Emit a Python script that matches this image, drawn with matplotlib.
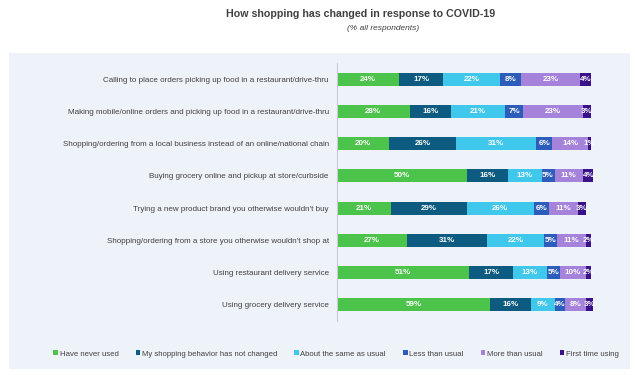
import matplotlib
matplotlib.use("Agg")
import matplotlib.pyplot as plt
from matplotlib.patches import Rectangle

categories = [
    "Calling to place orders picking up food in a restaurant/drive-thru",
    "Making mobile/online orders and picking up food in a restaurant/drive-thru",
    "Shopping/ordering from a local business instead of an online/national chain",
    "Buying grocery online and pickup at store/curbside",
    "Trying a new product brand you otherwise wouldn't buy",
    "Shopping/ordering from a store you otherwise wouldn't shop at",
    "Using restaurant delivery service",
    "Using grocery delivery service",
]
series = [
    "Have never used",
    "My shopping behavior has not changed",
    "About the same as usual",
    "Less than usual",
    "More than usual",
    "First time using",
]
values = [
    [24, 28, 20, 50, 21, 27, 51, 59],
    [17, 16, 26, 16, 29, 31, 17, 16],
    [22, 21, 31, 13, 26, 22, 13, 9],
    [8, 7, 6, 5, 6, 5, 5, 4],
    [23, 23, 14, 11, 11, 11, 10, 8],
    [4, 3, 1, 4, 3, 2, 2, 3],
]
colors = ["#4CC34A", "#0D5B80", "#3FC7EC", "#2D5DBA", "#A583DA", "#3A1189"]

plt.rcParams["font.family"] = ["Liberation Sans", "DejaVu Sans"]

fig = plt.figure(figsize=(6.35, 3.75), dpi=100)
fig.patch.set_facecolor("white")
# light background panel behind the chart
fig.patches.append(Rectangle((9 / 635, 6 / 375), 621 / 635, 316 / 375,
                             transform=fig.transFigure, facecolor="#EEF2F9",
                             edgecolor="none", zorder=0))

ax = fig.add_axes([337 / 635, 54 / 375, 259 / 635, 258 / 375])
ax.set_facecolor("none")
ax.set_zorder(2)

y = list(range(len(categories)))
left = [0] * len(categories)
for name, vals, c in zip(series, values, colors):
    ax.barh(y, vals, left=left, height=0.4, color=c, label=name)
    for i, v in enumerate(vals):
        ax.text(left[i] + v / 2, i, f"{v}%", ha="center", va="center",
                color="white", fontsize=5.8, fontweight="bold")
    left = [l + v for l, v in zip(left, vals)]

ax.set_xlim(0, 100)
ax.set_ylim(7.5, -0.5)
ax.set_yticks(y)
ax.set_yticklabels(categories, fontsize=5.75, color="#404040")
ax.tick_params(axis="y", length=0, pad=6)
ax.set_xticks([])
for s in ["top", "right", "bottom"]:
    ax.spines[s].set_visible(False)
ax.spines["left"].set_color("#C8CCD4")
ax.spines["left"].set_linewidth(0.8)

fig.text(361 / 635, 1 - 14 / 375, "How shopping has changed in response to COVID-19",
         ha="center", va="center", fontsize=7.7, fontweight="bold", color="#404040")
fig.text(383 / 635, 1 - 28 / 375, "(% all respondents)", ha="center", va="center",
         fontsize=6, style="italic", color="#404040")

leg = fig.legend(loc="center", bbox_to_anchor=(336 / 635, 1 - 354 / 375), ncol=6,
                 fontsize=5.6, frameon=False, handlelength=0.6, handleheight=0.6,
                 handletextpad=0.2, columnspacing=2.2, labelcolor="#404040")
leg.set_zorder(3)

fig.savefig("out.png", dpi=100)
